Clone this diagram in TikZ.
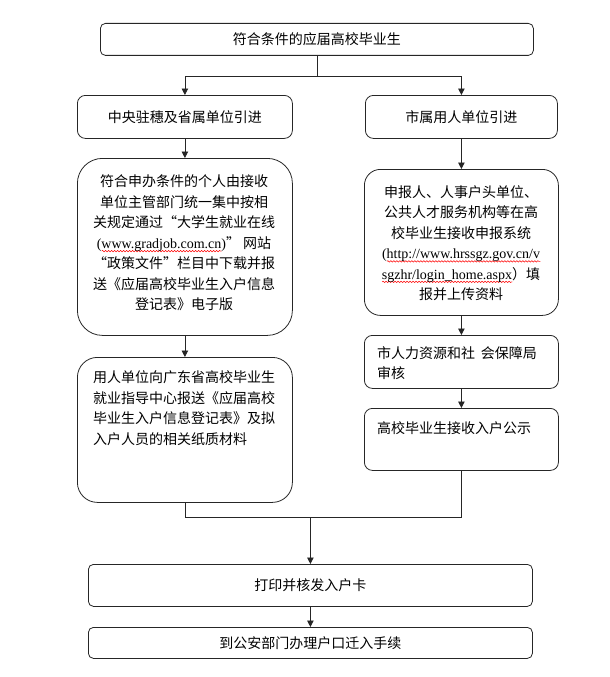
\documentclass[tikz,border=0pt]{standalone}
\usepackage{fontspec}
\usetikzlibrary{arrows.meta,decorations.pathmorphing}
\setmainfont{Liberation Serif}
\newfontfamily\cjk{Noto Sans CJK SC}
\newfontfamily\urlf{Liberation Serif}
\newsavebox\wavebox
\newcommand\redwave[1]{\sbox\wavebox{#1}\rlap{\tikz[baseline=0pt]\draw[red, line width=0.5pt, decorate, decoration={snake,amplitude=0.7pt,segment length=3pt}] (0pt,-2.8pt) -- (\wd\wavebox,-2.8pt);}\usebox\wavebox}
\tikzset{
  box/.style={draw=black!85, line width=0.8pt, inner sep=0pt, anchor=north west},
  txt/.style={font=\cjk\fontsize{14}{20.5}\selectfont, inner sep=0pt},
  arr/.style={draw=black!85, line width=0.8pt, -{Triangle[length=6.5pt,width=6.5pt]}},
  ln/.style={draw=black!85, line width=0.8pt}
}
\begin{document}
\begin{tikzpicture}[x=1pt,y=-1pt]
\useasboundingbox (0,0) rectangle (610,677);
% boxes
\node[box, rounded corners=5pt, minimum width=433pt, minimum height=32pt, txt] (top) at (100,23) {符合条件的应届高校毕业生};
\node[box, rounded corners=8pt, minimum width=215pt, minimum height=43pt, txt] (b2L) at (77,95) {中央驻穗及省属单位引进};
\node[box, rounded corners=8pt, minimum width=192pt, minimum height=43pt, txt] (b2R) at (365,95) {市属用人单位引进};
\node[box, rounded corners=25pt, minimum width=215pt, minimum height=177pt] (b3L) at (77,158) {};
\node[box, rounded corners=16pt, minimum width=194pt, minimum height=146pt] (b3R) at (364,169) {};
\node[box, rounded corners=20pt, minimum width=215pt, minimum height=145pt] (b4L) at (77,357) {};
\node[box, rounded corners=8pt, minimum width=194pt, minimum height=53pt] (b4R) at (364,335) {};
\node[box, rounded corners=8pt, minimum width=194pt, minimum height=62pt] (b5R) at (364,408) {};
\node[box, rounded corners=5pt, minimum width=444pt, minimum height=42pt, txt] (b6) at (88,564) {打印并核发入户卡};
\node[box, rounded corners=5pt, minimum width=444pt, minimum height=31pt, txt] (b7) at (88,627) {到公安部门办理户口迁入手续};
% texts
\node[txt, align=center] (t3L) at (184,243) {符合申办条件的个人由接收\\
单位主管部门统一集中按相\\
关规定通过“大学生就业在线\\
{\urlf(\redwave{www.gradjob.com.cn})}”\ 网站\\
“政策文件”栏目中下载并报\\
送《应届高校毕业生入户信息\\
登记表》电子版};
\node[txt, align=center] (t3R) at (461,243) {申报人、人事户头单位、\\
公共人才服务机构等在高\\
校毕业生接收申报系统\\
{\urlf(\redwave{http://www.hrssgz.gov.cn/v}}\\
{\urlf\redwave{sgzhr/login\_home.aspx}}）填\\
报并上传资料};
\node[txt, align=left, text width=186pt] (t4L) at (186,408) {用人单位向广东省高校毕业生\\
就业指导中心报送《应届高校\\
毕业生入户信息登记表》及拟\\
入户人员的相关纸质材料};
\node[txt, align=left, text width=168pt] (t4R) at (461,363) {市人力资源和社\hspace{6pt}会保障局\\审核};
\node[txt, anchor=west] (t5R) at (377,428) {高校毕业生接收入户公示};
% connectors
\coordinate (y76) at (0,76);
\coordinate (y517) at (0,517);
\draw[ln] (top.south) -- (top.south |- y76);
\draw[arr] (top.south |- y76) -| (b2L.north);
\draw[arr] (top.south |- y76) -| (b2R.north);
\draw[arr] (b2L.south) -- (b3L.north);
\draw[arr] (b2R.south) -- (b3R.north);
\draw[arr] (b3L.south) -- (b4L.north);
\draw[arr] (b3R.south) -- (b4R.north);
\draw[arr] (b4R.south) -- (b5R.north);
\draw[ln] (b4L.south) -- (b4L.south |- y517) -- (b5R.south |- y517) -- (b5R.south);
\draw[arr] (b6.north |- y517) -- (b6.north);
\draw[arr] (b6.south) -- (b7.north);
\end{tikzpicture}
\end{document}
